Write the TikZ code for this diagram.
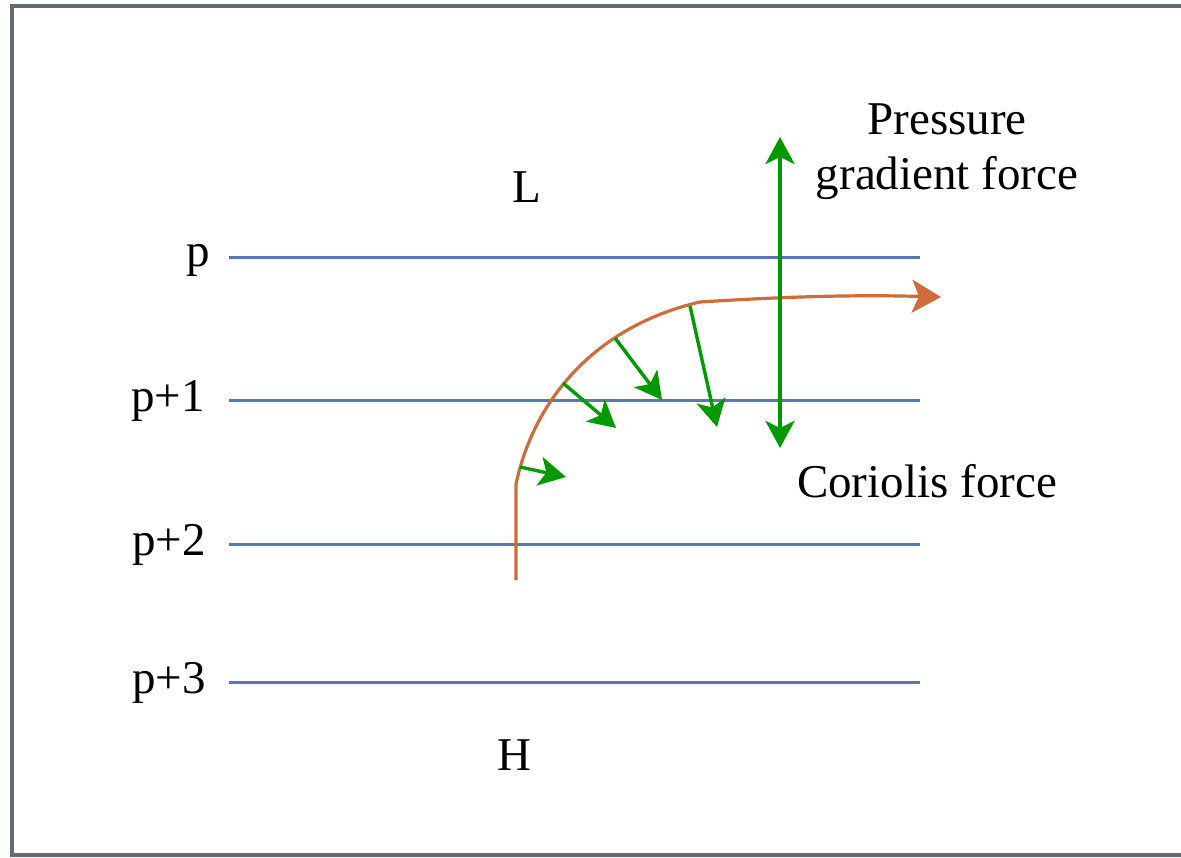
\documentclass[tikz,border=0pt]{standalone}
\usepackage{fontspec}
\setmainfont{Liberation Serif}
\usetikzlibrary{arrows.meta}
\definecolor{frame}{RGB}{96,107,115}
\definecolor{isobar}{RGB}{92,116,184}
\definecolor{flow}{RGB}{206,108,58}
\definecolor{force}{RGB}{0,153,0}
\tikzset{
  lbl/.style={inner sep=0pt, font=\fontsize{47}{55}\selectfont},
  iso/.style={draw=isobar, line width=3pt},
  farrow/.style={draw=force, line width=3.4pt, -{Stealth[length=27pt,width=29pt,inset=7pt]}},
  wind/.style={draw=flow, line width=3.2pt, -{Stealth[length=29pt,width=33pt,inset=7pt]}}
}
\begin{document}
\begin{tikzpicture}[x=1pt,y=-1pt]
\useasboundingbox (0,0) rectangle (1181,858);
\clip (0,0) rectangle (1181,858);
\draw[frame, line width=4pt] (12,6.3) rectangle (1195,854.7);
% isobars
\foreach \n/\y in {a/258,b/401,c/544,d/682}{
  \coordinate (\n1) at (229,\y);
  \coordinate (\n2) at (920,\y);
  \draw[iso] (\n1) -- (\n2);
}
\node[lbl, anchor=base east] (p0) at (210,267) {p};
\node[lbl, anchor=base east] (p1) at (205,412) {p+1};
\node[lbl, anchor=base east] (p2) at (206,555) {p+2};
\node[lbl, anchor=base east] (p3) at (206,693) {p+3};
\node[lbl, anchor=base] (L) at (527,203) {L};
\node[lbl, anchor=base] (H) at (514,770) {H};
\node[lbl, anchor=base, align=center] (pgf) at (947,190) {Pressure\\gradient force};
\node[lbl, anchor=base] (cor) at (927,497) {Coriolis force};
% wind path
\coordinate (w0) at (516,580);
\coordinate (w1) at (516,484);
\coordinate (w2) at (700,302);
\coordinate (w3) at (941,297);
\draw[wind] (w0) -- (w1) .. controls (535,395) and (600,325) .. (w2)
  .. controls (780,297) and (850,294.5) .. (w3);
% coriolis arrows
\coordinate (c1s) at (520,467); \coordinate (c1e) at (566,477);
\coordinate (c2s) at (563,383); \coordinate (c2e) at (616,428);
\coordinate (c3s) at (615,338); \coordinate (c3e) at (662,400);
\coordinate (c4s) at (690,306); \coordinate (c4e) at (717,427);
\draw[farrow] (c1s) -- (c1e);
\draw[farrow] (c2s) -- (c2e);
\draw[farrow] (c3s) -- (c3e);
\draw[farrow] (c4s) -- (c4e);
% double arrow
\coordinate (vt) at (780,137);
\coordinate (vb) at (780,448);
\draw[farrow, {Stealth[length=27pt,width=29pt,inset=7pt]}-{Stealth[length=27pt,width=29pt,inset=7pt]}] (vt) -- (vb);
\end{tikzpicture}
\end{document}
